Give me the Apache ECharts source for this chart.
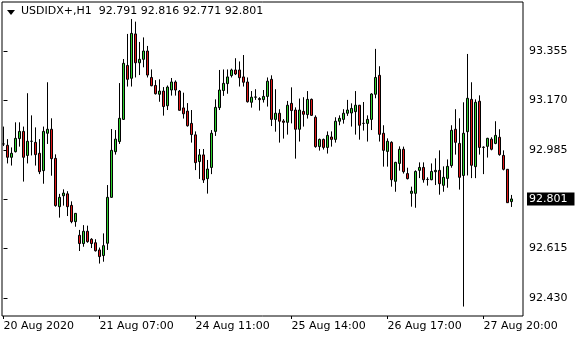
<!DOCTYPE html>
<html><head><meta charset="utf-8">
<script src="https://cdn.jsdelivr.net/npm/echarts@6/dist/echarts.min.js"></script>
<style>html,body{margin:0;padding:0;background:#fff}#c{width:580px;height:340px}</style>
</head><body><div id="c"></div>
<script>
const symbol = 'USDIDX+,H1';
const opens = [93.007,93.002,92.957,92.978,93.027,93.054,92.964,93.017,93.013,92.972,
92.907,93.047,93.062,92.953,92.772,92.813,92.820,92.777,92.716,92.665,
92.634,92.680,92.650,92.637,92.610,92.589,92.635,92.807,92.978,93.016,
93.099,93.301,93.253,93.419,93.311,93.324,93.355,93.256,93.226,93.193,
93.205,93.150,93.209,93.239,93.205,93.142,93.130,93.084,93.041,92.941,
92.966,92.877,92.919,93.054,93.143,93.207,93.233,93.263,93.284,93.284,
93.258,93.239,93.163,93.182,93.177,93.173,93.185,93.249,93.099,93.122,
93.093,93.088,93.159,93.134,93.062,93.129,93.117,93.174,93.107,92.997,
93.024,92.994,93.033,93.024,93.092,93.099,93.122,93.123,93.128,93.152,
93.084,93.084,93.099,93.193,93.264,93.047,92.979,93.013,92.867,92.934,
92.987,92.896,92.822,92.822,92.908,92.919,92.874,92.873,92.903,92.908,
92.852,92.878,92.926,93.062,93.009,92.889,93.053,93.174,92.922,93.167,
92.994,92.998,93.025,93.009,93.032,92.964,92.912,92.791];
const highs = [93.072,93.025,92.994,93.088,93.088,93.072,93.197,93.114,93.069,93.025,
93.072,93.238,93.103,92.968,92.820,92.837,92.830,92.792,92.748,92.685,
92.703,92.701,92.654,92.650,92.619,92.672,92.853,93.063,93.059,93.235,
93.325,93.419,93.475,93.465,93.389,93.406,93.374,93.286,93.246,93.249,
93.220,93.226,93.254,93.245,93.209,93.199,93.160,93.134,93.054,92.988,
92.988,92.947,93.059,93.174,93.284,93.286,93.286,93.289,93.328,93.316,
93.340,93.256,93.205,93.212,93.182,93.209,93.256,93.264,93.212,93.137,
93.100,93.168,93.219,93.144,93.177,93.182,93.205,93.177,93.114,93.027,
93.027,93.054,93.054,93.107,93.114,93.137,93.172,93.159,93.205,93.153,
93.164,93.114,93.197,93.363,93.298,93.077,93.028,93.017,92.940,92.998,
92.997,92.918,92.847,92.908,92.938,92.938,92.882,92.934,92.953,92.983,
92.923,92.949,93.077,93.137,93.103,93.163,93.344,93.238,93.174,93.189,
92.998,93.030,93.032,93.092,93.062,92.983,92.913,92.816];
const lows = [92.999,92.934,92.926,92.975,92.997,92.866,92.934,92.964,92.926,92.894,
92.858,93.007,92.888,92.772,92.731,92.776,92.737,92.710,92.697,92.606,
92.622,92.637,92.617,92.604,92.559,92.566,92.610,92.805,92.967,93.007,
93.097,93.222,93.222,93.256,93.265,93.294,93.256,93.223,93.192,93.165,
93.113,93.134,93.188,93.188,93.132,93.102,93.072,93.012,92.909,92.876,
92.861,92.821,92.894,93.037,93.134,93.187,93.195,93.256,93.265,93.222,
93.222,93.162,93.143,93.172,93.132,93.162,93.147,93.074,93.053,93.012,
93.027,93.042,93.084,92.952,93.016,93.072,93.102,93.112,92.993,92.982,
92.986,92.971,92.997,93.012,93.077,93.083,93.112,93.072,93.042,93.023,
93.057,93.016,93.059,93.178,93.016,92.922,92.922,92.847,92.828,92.907,
92.896,92.874,92.772,92.768,92.879,92.862,92.851,92.871,92.853,92.817,
92.828,92.843,92.918,92.967,92.836,92.398,92.889,92.879,92.879,92.967,
92.894,92.956,92.983,93.006,92.963,92.908,92.786,92.771];
const closes = [93.007,92.957,92.972,93.028,93.054,92.957,93.017,93.017,92.967,92.903,
93.054,93.062,92.952,92.776,92.807,92.823,92.772,92.716,92.747,92.634,
92.680,92.641,92.634,92.607,92.585,92.626,92.807,92.983,93.025,93.103,
93.309,93.249,93.421,93.311,93.324,93.355,93.265,93.225,93.195,93.205,
93.147,93.220,93.239,93.209,93.133,93.120,93.075,93.042,92.937,92.966,
92.872,92.913,93.047,93.144,93.209,93.234,93.258,93.284,93.269,93.255,
93.238,93.165,93.182,93.183,93.173,93.185,93.242,93.099,93.122,93.092,
93.088,93.152,93.132,93.062,93.134,93.118,93.174,93.114,92.997,93.024,
92.994,93.039,93.024,93.092,93.103,93.122,93.134,93.140,93.152,93.077,
93.084,93.099,93.194,93.256,93.043,92.983,93.017,92.873,92.938,92.987,
92.903,92.877,92.830,92.904,92.919,92.873,92.874,92.904,92.908,92.858,
92.882,92.923,93.058,93.013,92.882,93.047,93.178,92.927,93.163,92.994,
92.995,93.028,92.987,93.039,92.967,92.912,92.787,92.801];
const xTickIndex = [0, 24, 48, 72, 96, 120];
const xTickLabels = ['20 Aug 2020', '21 Aug 07:00', '24 Aug 11:00', '25 Aug 14:00', '26 Aug 17:00', '27 Aug 20:00'];
const yTickValues = [92.430, 92.615, 92.801, 92.985, 93.170, 93.355];

const n = opens.length;
const last = n - 1;
const data = opens.map((o, i) => [i, o, closes[i], lows[i], highs[i]]);
const font = 'DejaVu Sans';
const chart = echarts.init(document.getElementById('c'), null, {renderer: 'canvas'});
const titleText = symbol + '  ' + [opens[last], highs[last], lows[last], closes[last]].map(v => v.toFixed(3)).join(' ');
chart.setOption({
  animation: false,
  backgroundColor: '#fff',
  grid: {left: 2, right: 57, top: 2, bottom: 24, show: true, borderColor: '#000', borderWidth: 1, backgroundColor: '#fff'},
  xAxis: {
    type: 'value', min: -0.375, max: 129.875,
    axisLine: {show: false}, splitLine: {show: false},
    axisTick: {show: true, customValues: xTickIndex, length: 3, lineStyle: {color: '#000'}},
    axisLabel: {customValues: xTickIndex, formatter: v => xTickLabels[xTickIndex.indexOf(Math.round(v))] || '',
      align: 'left', margin: 5, fontFamily: font, fontSize: 11, color: '#000'}
  },
  yAxis: {
    type: 'value', position: 'right', min: 92.3626, max: 93.5386,
    axisLine: {show: false}, splitLine: {show: false},
    axisTick: {show: true, customValues: yTickValues, length: 4, lineStyle: {color: '#000'}},
    axisLabel: {
      customValues: yTickValues, margin: 4,
      formatter: v => { const s = v.toFixed(3); return s === closes[last].toFixed(3) ? '{b|' + s + '}' : '{n|' + s + '}'; },
      rich: {
        n: {padding: [0, 0, 0, 2], fontFamily: font, fontSize: 11, color: '#000'},
        b: {backgroundColor: '#000', color: '#fff', padding: [1, 7, 1, 2], fontFamily: font, fontSize: 11}
      }
    }
  },
  series: [{
    type: 'candlestick', data: data, encode: {x: 0, y: [1, 2, 3, 4]}, barWidth: 2,
    itemStyle: {color: '#2ed12e', color0: '#e01818', borderColor: '#000', borderColor0: '#000', borderWidth: 1}
  }],
  graphic: [
    {type: 'polygon', shape: {points: [[7, 10], [15, 10], [11, 15]]}, style: {fill: '#000'}, z: 100},
    {type: 'text', left: 21, top: 6, style: {text: titleText, fontFamily: font, fontSize: 11, fill: '#000'}, z: 100}
  ]
});
</script></body></html>
